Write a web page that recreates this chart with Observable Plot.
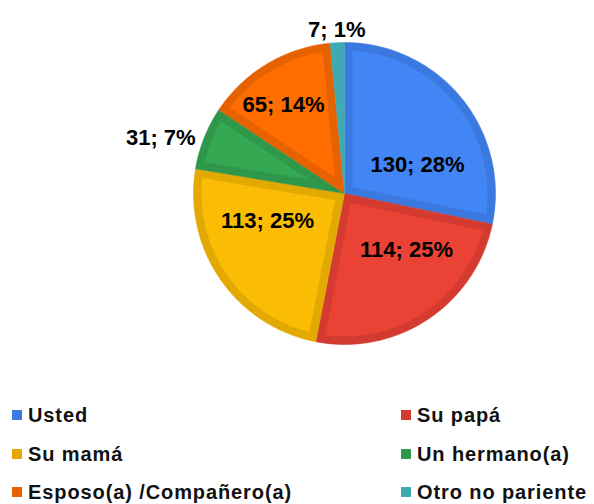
<!DOCTYPE html>
<html>
<head>
<meta charset="utf-8">
<script src="https://cdn.jsdelivr.net/npm/d3@7"></script>
<script src="https://cdn.jsdelivr.net/npm/@observablehq/plot@0.6"></script>
<style>
  html, body { margin: 0; padding: 0; background: #fff; }
  #wrap { position: relative; width: 594px; height: 504px; overflow: hidden; font-family: "Liberation Sans", Arial, sans-serif; }
  #chart { position: absolute; left: 0; top: 0; }
  .leg { position: absolute; font-size: 20px; font-weight: bold; color: #111; letter-spacing: 0.9px; white-space: nowrap; line-height: 24px; }
  .sw { position: absolute; width: 10px; height: 10px; }
</style>
</head>
<body>
<div id="wrap"><div id="chart"></div></div>
<script>
// ---- data ----
const categories = ["Usted", "Su papá", "Su mamá", "Un hermano(a)", "Esposo(a) /Compañero(a)", "Otro no pariente"];
const counts = [130, 114, 113, 31, 65, 7];
const percents = [28, 25, 25, 7, 14, 1];
const fillColors = ["#4285F4", "#EA4335", "#FBBC04", "#34A853", "#FF6D01", "#46BDC6"];
const borderColors = ["#3B78DF", "#D33B30", "#E2A903", "#2E974A", "#E66100", "#3FAAB3"];

// ---- layout ----
const W = 594, H = 395;
const cx = 344, cy = 193, R = 151;   // pixels
const borderPx = 8;
const labelFont = 22;

const arcs = d3.pie().sort(null).value(d => d)(counts);

function pt(a, r) { return [r * Math.sin(a), -r * Math.cos(a)]; }

const outer = [], inner = [];
arcs.forEach((arc, i) => {
  const a0 = arc.startAngle, a1 = arc.endAngle;
  const n = Math.max(2, Math.ceil((a1 - a0) / (Math.PI / 180)));
  const poly = [[0, 0]];
  for (let k = 0; k <= n; k++) poly.push(pt(a0 + (a1 - a0) * k / n, 1));
  poly.push([0, 0]);
  poly.forEach(([x, y]) => outer.push({i, x, y, color: borderColors[i]}));
  const w = borderPx / R, rr = 1 - w;
  const delta = Math.asin(w / rr);
  const half = (a1 - a0) / 2;
  if (half > delta) {
    const apex = pt(a0 + half, w / Math.sin(half));
    const b0 = a0 + delta, b1 = a1 - delta;
    const m = Math.max(2, Math.ceil((b1 - b0) / (Math.PI / 180)));
    const p2 = [apex];
    for (let k = 0; k <= m; k++) p2.push(pt(b0 + (b1 - b0) * k / m, rr));
    p2.push(apex);
    p2.forEach(([x, y]) => inner.push({i, x, y, color: fillColors[i]}));
  }
});

// text width estimate (Arial bold metrics, em units)
const cw = {";": 0.333, " ": 0.278, "%": 0.889};
function textW(s) { let t = 0; for (const ch of s) t += (cw[ch] ?? 0.556); return t * labelFont; }

// place inside labels where the text box has maximum clearance inside its wedge (pixel units)
function fitLabel(arc, bw, bh) {
  const a0 = arc.startAngle, a1 = arc.endAngle;
  const u0 = [Math.sin(a0), -Math.cos(a0)], u1 = [Math.sin(a1), -Math.cos(a1)];
  let best = null, bestC = -Infinity;
  for (let x = -R; x <= R; x += 1) for (let y = -R; y <= R; y += 1) {
    let c = Infinity;
    for (const [dx, dy] of [[-bw/2, -bh/2], [bw/2, -bh/2], [-bw/2, bh/2], [bw/2, bh/2]]) {
      const px = x + dx, py = y + dy;
      const d0 = u0[0] * py - u0[1] * px;
      const d1 = px * u1[1] - py * u1[0];
      const dc = R - Math.hypot(px, py);
      c = Math.min(c, d0, d1, dc);
    }
    if (c > bestC) { bestC = c; best = [x, y]; }
  }
  return best;
}

const labels = arcs.map((arc, i) => {
  const text = `${counts[i]}; ${percents[i]}%`;
  const mid = (arc.startAngle + arc.endAngle) / 2;
  const insideSlice = percents[i] >= 10;
  if (insideSlice) {
    const [px, py] = fitLabel(arc, textW(text), labelFont * 0.8);
    return {x: px / R, y: py / R, anchor: "middle", text};
  }
  const [x, y] = pt(mid, 1 + 9 / R);
  const s = Math.sin(mid);
  const anchor = Math.abs(s) < 0.2 ? "middle" : (s < 0 ? "end" : "start");
  return {x, y: Math.abs(s) < 0.2 ? y - 4 / R : y + 3 / R, anchor, text};
});

const chart = Plot.plot({
  width: W, height: H,
  margin: 0,
  x: {domain: [-cx / R, (W - cx) / R], range: [0, W], axis: null},
  y: {domain: [-cy / R, (H - cy) / R], range: [0, H], axis: null},
  color: {type: "identity"},
  style: {fontFamily: "'Liberation Sans', Arial, sans-serif", background: "#fff"},
  marks: [
    Plot.line(outer, {x: "x", y: "y", z: "i", fill: "color", stroke: "color", strokeWidth: 0.5, curve: "linear"}),
    Plot.line(inner, {x: "x", y: "y", z: "i", fill: "color", stroke: "none", curve: "linear"}),
    ...["middle", "end", "start"].map(anc =>
      Plot.text(labels.filter(d => d.anchor === anc), {
        x: "x", y: "y", text: "text", textAnchor: anc,
        fontSize: labelFont, fontWeight: "bold", fill: "#000", lineAnchor: "middle"
      }))
  ]
});
document.getElementById("chart").appendChild(chart);

// ---- legend (HTML, below the SVG) ----
const wrap = document.getElementById("wrap");
const colX = [12, 401];
const rowY = [415, 453.5, 492];
categories.forEach((c, i) => {
  const col = i % 2, row = Math.floor(i / 2);
  const sw = document.createElement("div");
  sw.className = "sw";
  sw.style.background = borderColors[i];
  sw.style.left = colX[col] + "px";
  sw.style.top = (rowY[row] - 5) + "px";
  wrap.appendChild(sw);
  const t = document.createElement("div");
  t.className = "leg";
  t.textContent = c;
  t.style.left = (colX[col] + 16) + "px";
  t.style.top = (rowY[row] - 12) + "px";
  wrap.appendChild(t);
});
</script>
</body>
</html>
